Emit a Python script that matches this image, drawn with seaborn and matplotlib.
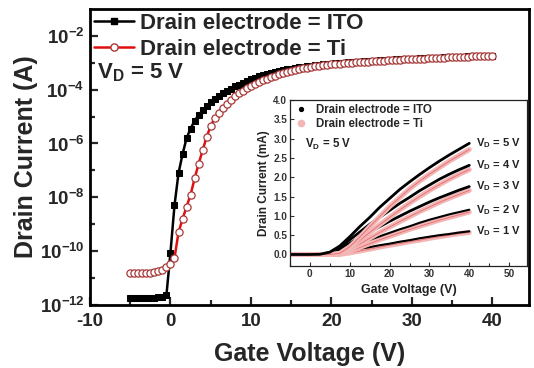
import numpy as np
import pandas as pd
import matplotlib
matplotlib.use("Agg")
import matplotlib.pyplot as plt
import matplotlib.ticker as mticker
from matplotlib.lines import Line2D
import seaborn as sns

# ---- main plot data: V_D = 5 V transfer curves (log10 of drain current in A)
gate_v = np.arange(-5.0, 40.5, 0.5)

ito_log = [-11.72, -11.72, -11.73, -11.72, -11.73, -11.72, -11.72, -11.71, -11.70, -11.62,
           -10.05, -8.30, -7.10, -6.40, -5.80, -5.45, -5.15, -4.95, -4.76, -4.60,
           -4.46, -4.34, -4.23, -4.13, -4.04, -3.96, -3.88, -3.81, -3.74, -3.67,
           -3.61, -3.56, -3.51, -3.46, -3.42, -3.38, -3.34, -3.31, -3.28, -3.25,
           -3.22, -3.19, -3.17, -3.15, -3.13, -3.11, -3.09, -3.07, -3.06, -3.04,
           -3.03, -3.02, -3.01, -3.00, -2.99, -2.98, -2.97, -2.96, -2.95, -2.94,
           -2.93, -2.92, -2.91, -2.905, -2.90, -2.89, -2.88, -2.875, -2.87, -2.86,
           -2.855, -2.85, -2.84, -2.835, -2.83, -2.82, -2.815, -2.81, -2.80, -2.795,
           -2.79, -2.785, -2.78, -2.775, -2.77, -2.765, -2.76, -2.755, -2.75, -2.745,
           -2.74]

ti_log = [-10.82, -10.82, -10.82, -10.81, -10.81, -10.80, -10.78, -10.74, -10.68, -10.60,
          -10.48, -10.25, -9.30, -8.80, -8.35, -7.90, -7.30, -6.75, -6.25, -5.75,
          -5.35, -5.05, -4.85, -4.68, -4.52, -4.38, -4.25, -4.14, -4.04, -3.95,
          -3.87, -3.80, -3.73, -3.66, -3.60, -3.54, -3.48, -3.43, -3.39, -3.35,
          -3.31, -3.27, -3.24, -3.21, -3.18, -3.16, -3.13, -3.11, -3.09, -3.07,
          -3.05, -3.04, -3.03, -3.02, -3.01, -3.00, -2.99, -2.98, -2.97, -2.96,
          -2.95, -2.94, -2.93, -2.92, -2.91, -2.905, -2.895, -2.89, -2.88, -2.875,
          -2.865, -2.86, -2.85, -2.845, -2.84, -2.83, -2.825, -2.82, -2.81, -2.805,
          -2.80, -2.79, -2.785, -2.78, -2.775, -2.77, -2.76, -2.755, -2.75, -2.745,
          -2.74]

# ---- inset data: linear transfer curves (mA) for V_D = 1..5 V
inset_v = [-5, -2.5, 0, 2.5, 5, 7.5, 10, 12.5, 15, 17.5, 20, 22.5, 25, 27.5, 30, 32.5, 35, 37.5, 40]
inset_ito = {
    5: [0, 0, 0, 0.005, 0.06, 0.22, 0.46, 0.72, 0.96, 1.22, 1.45, 1.68, 1.88, 2.07, 2.25, 2.42, 2.58, 2.73, 2.88],
    4: [0, 0, 0, 0.005, 0.05, 0.19, 0.38, 0.58, 0.78, 0.96, 1.14, 1.32, 1.48, 1.65, 1.80, 1.95, 2.08, 2.20, 2.31],
    3: [0, 0, 0, 0.004, 0.04, 0.15, 0.29, 0.44, 0.58, 0.72, 0.86, 0.99, 1.12, 1.24, 1.36, 1.47, 1.57, 1.67, 1.76],
    2: [0, 0, 0, 0.003, 0.03, 0.10, 0.19, 0.29, 0.38, 0.47, 0.56, 0.65, 0.73, 0.82, 0.90, 0.97, 1.04, 1.10, 1.16],
    1: [0, 0, 0, 0.002, 0.015, 0.05, 0.10, 0.15, 0.19, 0.24, 0.28, 0.33, 0.37, 0.42, 0.46, 0.50, 0.53, 0.57, 0.60],
}
inset_ti = {
    5: [0, 0, 0, 0, 0, 0.03, 0.20, 0.45, 0.72, 0.98, 1.24, 1.47, 1.70, 1.90, 2.08, 2.25, 2.42, 2.57, 2.72],
    4: [0, 0, 0, 0, 0, 0.02, 0.16, 0.36, 0.57, 0.77, 0.96, 1.15, 1.33, 1.50, 1.66, 1.81, 1.95, 2.08, 2.20],
    3: [0, 0, 0, 0, 0, 0.015, 0.12, 0.27, 0.42, 0.57, 0.71, 0.85, 0.98, 1.11, 1.23, 1.35, 1.46, 1.56, 1.66],
    2: [0, 0, 0, 0, 0, 0.01, 0.08, 0.18, 0.28, 0.38, 0.47, 0.56, 0.65, 0.73, 0.81, 0.89, 0.96, 1.03, 1.10],
    1: [0, 0, 0, 0, 0, 0.005, 0.04, 0.09, 0.14, 0.19, 0.24, 0.28, 0.33, 0.37, 0.42, 0.46, 0.50, 0.54, 0.57],
}

sns.set_style("ticks")
plt.rcParams["font.family"] = ["Liberation Sans", "DejaVu Sans"]
plt.rcParams["font.weight"] = "bold"
plt.rcParams["axes.labelweight"] = "bold"
plt.rcParams["axes.unicode_minus"] = False
plt.rcParams["mathtext.fontset"] = "custom"
plt.rcParams["mathtext.rm"] = "Liberation Sans:bold"
plt.rcParams["mathtext.bf"] = "Liberation Sans:bold"
plt.rcParams["mathtext.default"] = "bf"

df = pd.DataFrame({"vg": gate_v, "ito": 10.0 ** np.array(ito_log), "ti": 10.0 ** np.array(ti_log)})

fig = plt.figure(figsize=(5.34, 3.68), dpi=100)
ax = fig.add_axes([0.1685, 0.171, 0.823, 0.805])

sns.lineplot(data=df, x="vg", y="ito", ax=ax, color="black", lw=1.8, marker="s",
             markersize=4.2, markerfacecolor="black", markeredgecolor="black",
             sort=False, errorbar=None)
sns.lineplot(data=df, x="vg", y="ti", ax=ax, color="#e01010", lw=1.8, marker="o",
             markersize=5.2, markerfacecolor="white", markeredgecolor="#a83838",
             markeredgewidth=0.9, sort=False, errorbar=None)

ax.set_yscale("log")
ax.set_xlim(-10, 44.6)
ax.set_ylim(1e-12, 1e-1)
ax.xaxis.set_major_locator(mticker.MultipleLocator(10))
ax.xaxis.set_minor_locator(mticker.MultipleLocator(5))
ax.yaxis.set_major_locator(mticker.FixedLocator([10.0 ** e for e in range(-12, -1, 2)]))
ax.yaxis.set_minor_locator(mticker.FixedLocator([10.0 ** e for e in range(-11, -1, 2)]))
ax.yaxis.set_major_formatter(mticker.FuncFormatter(
    lambda v, p: r"$\mathbf{10^{%d}}$" % int(round(np.log10(v)))))
ax.yaxis.set_minor_formatter(mticker.NullFormatter())
ax.tick_params(which="both", direction="in", width=1.6, labelsize=13.5)
ax.tick_params(axis="x", pad=6)
ax.tick_params(axis="y", pad=4)
ax.tick_params(which="major", length=6)
ax.tick_params(which="minor", length=3.5)
for lab in ax.get_xticklabels():
    lab.set_fontweight("bold")
for s in ax.spines.values():
    s.set_linewidth(2)
    s.set_color("black")
ax.set_xlabel("Gate Voltage (V)", fontsize=18, fontweight="bold", labelpad=8)
ax.set_ylabel("Drain Current (A)", fontsize=18, fontweight="bold", labelpad=1)

handles = [Line2D([], [], color="black", lw=1.8, marker="s", markersize=4.2),
           Line2D([], [], color="#e01010", lw=1.8, marker="o", markersize=5.2,
                  markerfacecolor="white", markeredgecolor="#a83838")]
ax.legend(handles, ["Drain electrode = ITO", "Drain electrode = Ti"], loc="upper left",
          frameon=False, handlelength=1.8, handletextpad=0.25,
          labelspacing=0.2, borderaxespad=0.1, borderpad=0.1,
          prop={"weight": "bold", "size": 16})
ax.text(0.016, 0.785, r"V$_{\mathbf{D}}$ = 5 V", transform=ax.transAxes, fontsize=16,
        fontweight="bold", va="center", ha="left")

# ---- inset
ins = fig.add_axes([0.543, 0.277, 0.444, 0.451])
ins.set_facecolor("white")
for vd in [1, 2, 3, 4, 5]:
    sns.lineplot(x=inset_v, y=inset_ti[vd], ax=ins, color="#f2b6b6", lw=3.6, sort=False, errorbar=None)
    sns.lineplot(x=inset_v, y=inset_ti[vd], ax=ins, color="#e86a6a", lw=0.6, sort=False, errorbar=None)
    sns.lineplot(x=inset_v, y=inset_ito[vd], ax=ins, color="black", lw=2.0 if vd > 2 else 1.5,
                 sort=False, errorbar=None)
    ins.text(41.6, inset_ito[vd][-1], r"V$_{\mathbf{D}}$ = %d V" % vd, fontsize=8,
             fontweight="bold", va="center", ha="left", color="#222222")

ins.set_xlim(-5, 54.5)
ins.set_ylim(-0.3, 4.0)
ins.xaxis.set_major_locator(mticker.MultipleLocator(10))
ins.xaxis.set_minor_locator(mticker.MultipleLocator(5))
ins.yaxis.set_major_locator(mticker.MultipleLocator(0.5))
ins.yaxis.set_major_formatter(mticker.FormatStrFormatter("%.1f"))
ins.tick_params(which="both", direction="in", width=0.8, labelsize=7.2, pad=2, colors="#333333")
ins.tick_params(which="major", length=3)
ins.tick_params(which="minor", length=2)
for lab in ins.get_xticklabels() + ins.get_yticklabels():
    lab.set_fontweight("bold")
for s in ins.spines.values():
    s.set_linewidth(0.9)
    s.set_color("#222222")
ins.set_xlabel("Gate Voltage (V)", fontsize=9, fontweight="bold", labelpad=4, color="#222222")
ins.set_ylabel("Drain Current (mA)", fontsize=8.5, fontweight="bold", labelpad=2, color="#222222")

ih = [Line2D([], [], ls="none", marker="o", markersize=2.8, color="black"),
      Line2D([], [], ls="none", marker="o", markersize=4.5, color="#f2b6b6")]
ins.legend(ih, ["Drain electrode = ITO", "Drain electrode = Ti"], loc="upper left",
           frameon=False, handlelength=1.3, handletextpad=0.6, labelspacing=0.2,
           borderaxespad=0.05, borderpad=0.3, prop={"weight": "bold", "size": 8.3})
ins.text(0.063, 0.735, r"V$_{\mathbf{D}}$ = 5 V", transform=ins.transAxes, fontsize=8.3,
         fontweight="bold", va="center", ha="left", color="#222222")

fig.savefig("out.png", dpi=100)
